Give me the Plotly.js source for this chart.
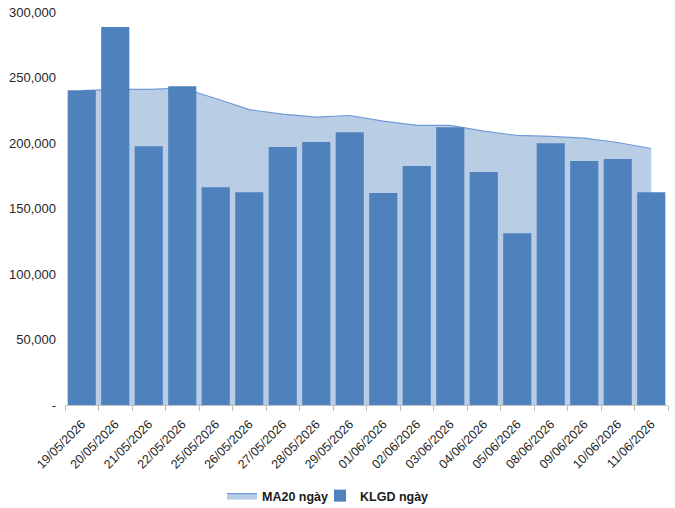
<!DOCTYPE html>
<html>
<head>
<meta charset="utf-8">
<script src="https://cdn.plot.ly/plotly-3.0.1.min.js"></script>
<style>
  html, body { margin: 0; padding: 0; background: #fff; }
  #chart { width: 675px; height: 508px; }
</style>
</head>
<body>
<div id="chart"></div>
<script>
var dates = ['19/05/2026', '20/05/2026', '21/05/2026', '22/05/2026', '25/05/2026', '26/05/2026',
             '27/05/2026', '28/05/2026', '29/05/2026', '01/06/2026', '02/06/2026', '03/06/2026',
             '04/06/2026', '05/06/2026', '08/06/2026', '09/06/2026', '10/06/2026', '11/06/2026'];

// KLGD ngay (khoi luong giao dich)
var klgd = [240300, 288500, 197600, 243400, 166300, 162500,
            196900, 200700, 208300, 161800, 182400, 212100,
            177800, 131200, 199900, 186200, 187700, 162500];

// MA20 ngay
var ma20 = [240000, 241000, 241000, 242000, 234000, 225500,
            222000, 219700, 221000, 216700, 213400, 213400,
            209000, 205800, 205000, 203700, 200400, 195800];

var yTickVals = [0, 50000, 100000, 150000, 200000, 250000, 300000];
var yTickText = ['-', '50,000', '100,000', '150,000', '200,000', '250,000', '300,000'];

var trace_ma = {
    x: dates,
    y: ma20,
    type: 'scatter',
    mode: 'lines',
    fill: 'tozeroy',
    fillcolor: '#B9CDE5',
    line: {color: '#6F9BD8', width: 1.2},
    name: 'MA20 ngày',
    legend: 'legend'
};

// bars sit on an overlaid axis pair so they are drawn above the area
var trace_bar = {
    x: dates,
    y: klgd,
    type: 'bar',
    xaxis: 'x2',
    yaxis: 'y2',
    marker: {color: '#4F81BD'},
    name: 'KLGD ngày',
    legend: 'legend2'
};

var legendFont = {family: 'Liberation Sans, Arial, sans-serif', size: 12.5, color: '#1a1a1a', weight: 'bold'};

var layout = {
    width: 675,
    height: 508,
    margin: {l: 65, r: 7, t: 12, b: 103, autoexpand: false},
    paper_bgcolor: '#ffffff',
    plot_bgcolor: 'rgba(0,0,0,0)',
    font: {family: 'Liberation Sans, Arial, sans-serif', size: 13, color: '#262626'},
    bargap: 0.16,
    showlegend: true,
    legend: {
        xref: 'container', yref: 'container',
        x: 222 / 675, xanchor: 'left',
        y: 12 / 508, yanchor: 'middle',
        font: legendFont,
        itemwidth: 30,
        bgcolor: 'rgba(0,0,0,0)'
    },
    legend2: {
        xref: 'container', yref: 'container',
        x: 320 / 675, xanchor: 'left',
        y: 12 / 508, yanchor: 'middle',
        font: legendFont,
        itemwidth: 30,
        bgcolor: 'rgba(0,0,0,0)'
    },
    xaxis: {
        type: 'category',
        range: [-0.5, 17.5],
        tickangle: -45,
        ticks: 'outside',
        tickson: 'boundaries',
        ticklen: 5,
        tickcolor: '#BFBFBF',
        ticklabelstandoff: 6,
        showline: true,
        linecolor: '#BFBFBF',
        linewidth: 1,
        showgrid: false,
        automargin: false,
        tickfont: {size: 12.5, color: '#262626'},
        fixedrange: true
    },
    yaxis: {
        range: [0, 300000],
        tickvals: yTickVals,
        ticktext: yTickText,
        showgrid: false,
        zeroline: false,
        showline: false,
        ticks: '',
        ticklabelstandoff: 8,
        automargin: false,
        tickfont: {size: 13, color: '#262626'},
        fixedrange: true
    },
    xaxis2: {
        type: 'category',
        overlaying: 'x',
        range: [-0.5, 17.5],
        visible: false,
        fixedrange: true
    },
    yaxis2: {
        overlaying: 'y',
        range: [0, 300000],
        visible: false,
        fixedrange: true
    }
};

Plotly.newPlot('chart', [trace_ma, trace_bar], layout, {displayModeBar: false, staticPlot: true});
</script>
</body>
</html>
